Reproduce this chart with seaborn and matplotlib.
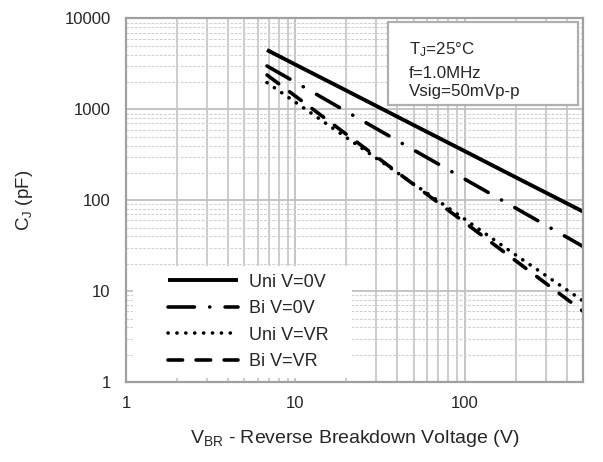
import matplotlib
matplotlib.use("Agg")
import matplotlib.pyplot as plt
import seaborn as sns
import numpy as np
import pandas as pd
from matplotlib.patches import Rectangle
from matplotlib.ticker import FixedLocator, FixedFormatter, NullFormatter, LogLocator

# ---- data ----
vbr = [6.8, 10, 20, 50, 100, 200, 500]
uni_0v = [4500, 3110, 1610, 671, 347, 179, 75]
bi_0v = [3000, 1990, 948, 357, 171, 82, 31]
uni_vr = [1970, 1200, 490, 151, 62, 25, 7.8]
bi_vr = [2390, 1400, 532, 149, 57, 21.6, 6.0]
series_labels = ["Uni V=0V", "Bi V=0V", "Uni V=VR", "Bi V=VR"]
x_ticks = [1, 10, 100]
x_tick_labels = ["1", "10", "100"]
y_ticks = [1, 10, 100, 1000, 10000]
y_tick_labels = ["1", "10", "100", "1000", "10000"]
note_lines = ["T$_{\\mathrm{J}}$=25°C", "f=1.0MHz", "Vsig=50mVp-p"]

sns.set_style("white")
plt.rcParams["font.family"] = ["Liberation Sans", "DejaVu Sans"]
plt.rcParams["mathtext.fontset"] = "custom"
plt.rcParams["mathtext.rm"] = "Liberation Sans"
plt.rcParams["mathtext.it"] = "Liberation Sans:italic"
plt.rcParams["lines.scale_dashes"] = False

fig = plt.figure(figsize=(6.03, 4.62), dpi=100)
ax = fig.add_axes([0.209, 0.173, 0.758, 0.787])

styles = [
    dict(lw=2.8, linestyle="-", solid_capstyle="butt"),
    dict(lw=2.6, linestyle=(0, (19.0, 11.0, 0.1, 11.0)), dash_capstyle="round"),
    dict(lw=2.6, linestyle=(0, (0.1, 6.3)), dash_capstyle="round"),
    dict(lw=2.6, linestyle=(0, (10.5, 9.7)), dash_capstyle="round"),
]
all_y = [uni_0v, bi_0v, uni_vr, bi_vr]
for lab, ys, st in zip(series_labels, all_y, styles):
    df = pd.DataFrame({"x": vbr, "y": ys})
    sns.lineplot(data=df, x="x", y="y", ax=ax, color="black", label=lab,
                 legend=False, **st)

ax.set_xscale("log")
ax.set_yscale("log")
ax.set_xlim(1, 500)
ax.set_ylim(1, 10000)

ax.xaxis.set_major_locator(FixedLocator(x_ticks))
ax.xaxis.set_major_formatter(FixedFormatter(x_tick_labels))
ax.yaxis.set_major_locator(FixedLocator(y_ticks))
ax.yaxis.set_major_formatter(FixedFormatter(y_tick_labels))
ax.xaxis.set_minor_locator(LogLocator(base=10, subs=np.arange(2, 10)))
ax.yaxis.set_minor_locator(LogLocator(base=10, subs=np.arange(2, 10)))
ax.xaxis.set_minor_formatter(NullFormatter())
ax.yaxis.set_minor_formatter(NullFormatter())
ax.tick_params(which="both", length=0, labelsize=12)
ax.tick_params(axis="y", pad=11)
ax.tick_params(axis="x", pad=10)

ax.set_axisbelow(True)
ax.grid(which="major", color="#c0c0c0", lw=1.3, ls="-")
ax.xaxis.grid(which="minor", color="#c8c8c8", lw=1.3, ls="-")
ax.yaxis.grid(which="minor", color="#d2d2d2", lw=0.8, ls=(0, (2, 1)))

for sp in ax.spines.values():
    sp.set_color("#a0a0a0")
    sp.set_linewidth(1.6)

ax.set_xlabel("V$_{\\mathrm{BR}}$ - Reverse Breakdown Voltage (V)", fontsize=14, labelpad=12)
ax.set_ylabel("C$_{\\mathrm{J}}$ (pF)", fontsize=13.5, labelpad=21)

# white area behind legend (hides the grid)
ax.add_patch(Rectangle((0.015, 0.01), 0.48, 0.31, transform=ax.transAxes,
                       facecolor="white", edgecolor="none", zorder=1.5))
leg = ax.legend(loc="upper left", bbox_to_anchor=(0.092, 0.298), frameon=False,
                fontsize=13, handlelength=3.9, handletextpad=0.6,
                labelspacing=0.52, borderaxespad=0, borderpad=0)

# note box
ax.add_patch(Rectangle((0.573, 0.762), 0.416, 0.228, transform=ax.transAxes,
                       facecolor="white", edgecolor="#b0b0b0", lw=1.6, zorder=3))
note_y = [0.915, 0.85, 0.80]
for t, yy in zip(note_lines, note_y):
    ax.text(0.619, yy, t, transform=ax.transAxes, fontsize=12.2, va="center",
            ha="left", zorder=4)

fig.savefig("out.png", dpi=100)
